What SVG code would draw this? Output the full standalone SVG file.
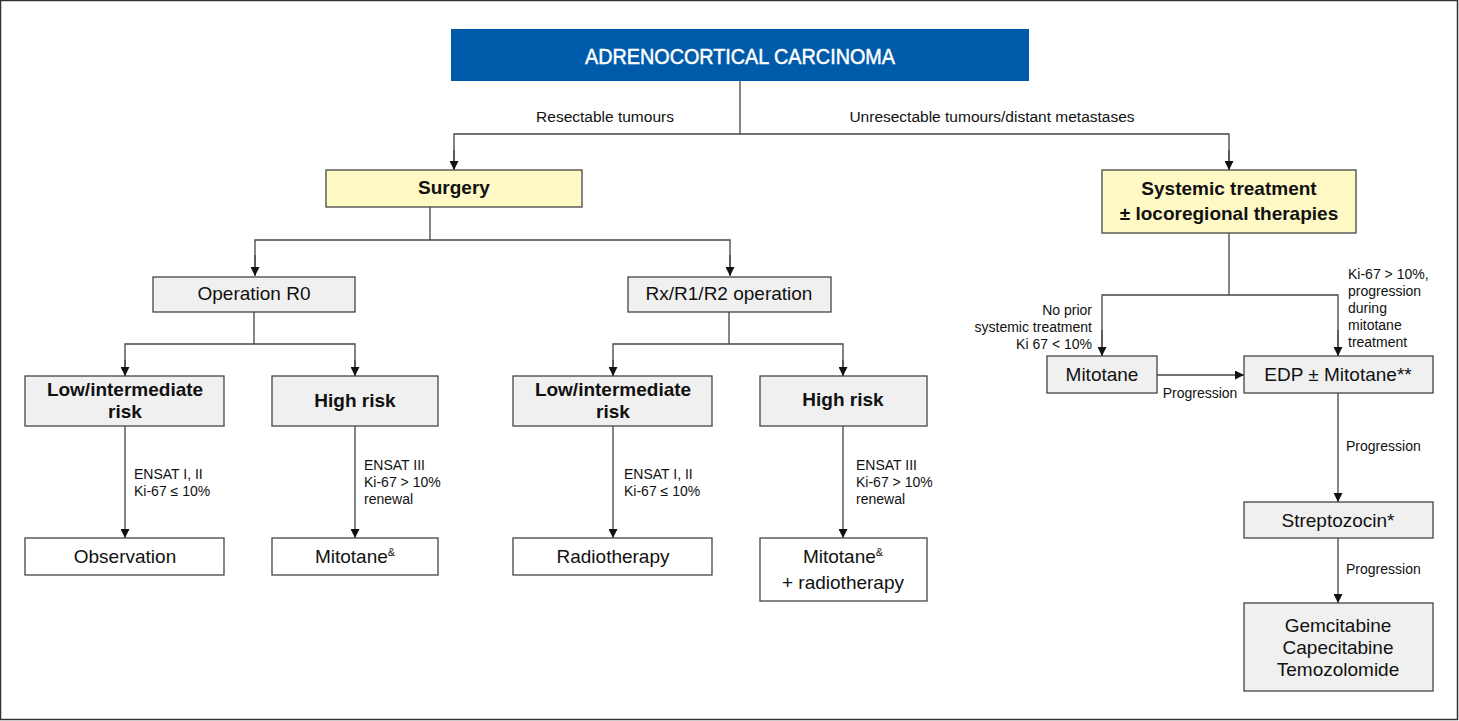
<svg xmlns="http://www.w3.org/2000/svg" width="1459" height="721" viewBox="0 0 1459 721">
<defs>
<marker id="ah" viewBox="0 0 10 10" refX="10" refY="5" markerWidth="9" markerHeight="9" markerUnits="userSpaceOnUse" orient="auto"><path d="M0,0 L10,5 L0,10 z" fill="#111"/></marker>
<style>
text{font-family:"Liberation Sans Narrow","Liberation Sans",sans-serif;fill:#111}
.t{font-size:19px;text-anchor:middle}
.b{font-size:19px;text-anchor:middle;font-weight:bold}
.s{font-size:14px}
.m{font-size:15.5px;text-anchor:middle}
.n{fill:#f0f0f0;stroke:#444;stroke-width:1.3}
.w{fill:#fff;stroke:#444;stroke-width:1.3}
.y{fill:#fff9c6;stroke:#444;stroke-width:1.3}
.c line,.c polyline{stroke:#444;stroke-width:1.3;fill:none}
.a{marker-end:url(#ah)}
</style>
</defs>
<rect x="0.5" y="0.5" width="1457" height="719" fill="#fff" stroke="#333" stroke-width="1.5"/>
<g class="c" id="connectors">
<line x1="740" y1="81" x2="740" y2="134"/>
<polyline points="454,170 454,134 1229,134 1229,170"/>
<line class="a" x1="454" y1="150" x2="454" y2="170"/>
<line class="a" x1="1229" y1="150" x2="1229" y2="170"/>
<line x1="430" y1="207" x2="430" y2="240"/>
<polyline points="255,275 255,240 730,240 730,275"/>
<line class="a" x1="255" y1="255" x2="255" y2="276"/>
<line class="a" x1="730" y1="255" x2="730" y2="276"/>
<line x1="254" y1="312" x2="254" y2="344"/>
<polyline points="125,376 125,344 355,344 355,376"/>
<line class="a" x1="125" y1="360" x2="125" y2="376"/>
<line class="a" x1="355" y1="360" x2="355" y2="376"/>
<line x1="729" y1="312" x2="729" y2="344"/>
<polyline points="613,376 613,344 843,344 843,376"/>
<line class="a" x1="613" y1="360" x2="613" y2="376"/>
<line class="a" x1="843" y1="360" x2="843" y2="376"/>
<line class="a" x1="125" y1="426" x2="125" y2="538"/>
<line class="a" x1="355" y1="426" x2="355" y2="538"/>
<line class="a" x1="613" y1="426" x2="613" y2="538"/>
<line class="a" x1="843" y1="426" x2="843" y2="538"/>
<line x1="1229" y1="233" x2="1229" y2="295"/>
<polyline points="1102,356 1102,295 1338,295 1338,356"/>
<line class="a" x1="1102" y1="330" x2="1102" y2="356"/>
<line class="a" x1="1338" y1="330" x2="1338" y2="356"/>
<line class="a" x1="1157" y1="375" x2="1244" y2="375"/>
<line class="a" x1="1338" y1="393" x2="1338" y2="502"/>
<line class="a" x1="1338" y1="538" x2="1338" y2="603"/>
</g>
<g id="labels">
<text class="m" x="605" y="122">Resectable tumours</text>
<text class="m" x="992" y="122">Unresectable tumours/distant metastases</text>
<text class="s" x="134" y="479">ENSAT I, II</text>
<text class="s" x="134" y="496">Ki-67 ≤ 10%</text>
<text class="s" x="364" y="470">ENSAT III</text>
<text class="s" x="364" y="487">Ki-67 &gt; 10%</text>
<text class="s" x="364" y="504">renewal</text>
<text class="s" x="624" y="479">ENSAT I, II</text>
<text class="s" x="624" y="496">Ki-67 ≤ 10%</text>
<text class="s" x="856" y="470">ENSAT III</text>
<text class="s" x="856" y="487">Ki-67 &gt; 10%</text>
<text class="s" x="856" y="504">renewal</text>
<text class="s" x="1092" y="315" text-anchor="end">No prior</text>
<text class="s" x="1092" y="332" text-anchor="end">systemic treatment</text>
<text class="s" x="1092" y="349" text-anchor="end">Ki 67 &lt; 10%</text>
<text class="s" x="1348" y="279">Ki-67 &gt; 10%,</text>
<text class="s" x="1348" y="296">progression</text>
<text class="s" x="1348" y="313">during</text>
<text class="s" x="1348" y="330">mitotane</text>
<text class="s" x="1348" y="347">treatment</text>
<text class="s" x="1200" y="398" text-anchor="middle">Progression</text>
<text class="s" x="1346" y="451">Progression</text>
<text class="s" x="1346" y="574">Progression</text>
</g>
<g id="title"><rect x="451" y="29" width="578" height="52" fill="#005aaa"/><text x="740" y="64" text-anchor="middle" textLength="310" lengthAdjust="spacingAndGlyphs" style="font-size:22px;fill:#fff;stroke:#fff;stroke-width:0.5">ADRENOCORTICAL CARCINOMA</text></g>
<g id="surgery"><rect class="y" x="326" y="170" width="256" height="37"/><text class="b" x="454" y="194">Surgery</text></g>
<g id="systemic"><rect class="y" x="1102" y="170" width="254" height="63"/><text class="b" x="1229" y="195">Systemic treatment</text><text class="b" x="1229" y="220">± locoregional therapies</text></g>
<g id="op-r0"><rect class="n" x="153" y="277" width="202" height="35"/><text class="t" x="254" y="300">Operation R0</text></g>
<g id="op-rx"><rect class="n" x="628" y="277" width="203" height="35"/><text class="t" x="729" y="300">Rx/R1/R2 operation</text></g>
<g id="low1"><rect class="n" x="25" y="376" width="199" height="50"/><text class="b" x="125" y="396">Low/intermediate</text><text class="b" x="125" y="418">risk</text></g>
<g id="high1"><rect class="n" x="272" y="376" width="166" height="50"/><text class="b" x="355" y="407">High risk</text></g>
<g id="low2"><rect class="n" x="513" y="376" width="199" height="50"/><text class="b" x="613" y="396">Low/intermediate</text><text class="b" x="613" y="418">risk</text></g>
<g id="high2"><rect class="n" x="760" y="376" width="167" height="50"/><text class="b" x="843" y="406">High risk</text></g>
<g id="observation"><rect class="w" x="25" y="538" width="199" height="37"/><text class="t" x="125" y="563">Observation</text></g>
<g id="mitotane1"><rect class="w" x="272" y="538" width="166" height="37"/><text class="t" x="355" y="563">Mitotane<tspan style="font-size:11px" dy="-7">&amp;</tspan></text></g>
<g id="radiotherapy"><rect class="w" x="513" y="538" width="199" height="37"/><text class="t" x="613" y="563">Radiotherapy</text></g>
<g id="mitotane-rt"><rect class="w" x="760" y="538" width="167" height="63"/><text class="t" x="843" y="563">Mitotane<tspan style="font-size:11px" dy="-7">&amp;</tspan></text><text class="t" x="843" y="589">+ radiotherapy</text></g>
<g id="mitotane2"><rect class="n" x="1047" y="356" width="110" height="37"/><text class="t" x="1102" y="381">Mitotane</text></g>
<g id="edp"><rect class="n" x="1244" y="356" width="189" height="37"/><text class="t" x="1338" y="381">EDP ± Mitotane**</text></g>
<g id="strepto"><rect class="n" x="1244" y="502" width="189" height="36"/><text class="t" x="1338" y="527">Streptozocin*</text></g>
<g id="gem"><rect class="n" x="1244" y="603" width="189" height="88"/><text class="t" x="1338" y="632">Gemcitabine</text><text class="t" x="1338" y="654">Capecitabine</text><text class="t" x="1338" y="676">Temozolomide</text></g>
</svg>
